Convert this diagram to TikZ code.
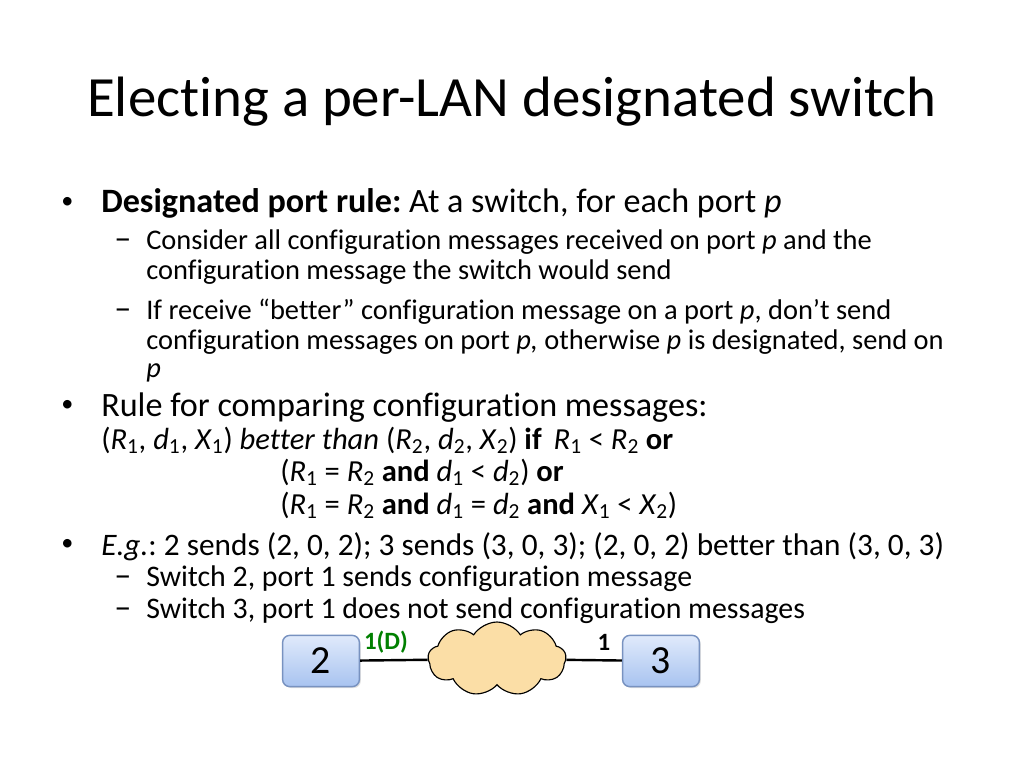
\documentclass[tikz,border=0pt]{standalone}
\usepackage{fontspec}
\setmainfont[Ligatures={NoCommon,NoRare,NoContextual}]{Carlito}
\usetikzlibrary{shapes.symbols,shadows}
\definecolor{boxtop}{RGB}{224,234,251}
\definecolor{boxbot}{RGB}{168,195,240}
\definecolor{boxedge}{RGB}{120,146,192}
\definecolor{lanfill}{RGB}{251,222,166}
\definecolor{portgreen}{RGB}{0,128,0}
\newcommand{\vsub}[2]{\textit{#1}\textsubscript{#2}}
\newcommand{\bul}{\raisebox{0.12em}{\fontsize{17}{17}\selectfont •}}
\frenchspacing
\tikzset{
    slidetitle/.style={anchor=base, inner sep=0pt, font=\fontsize{40}{46}\selectfont},
    lvlone/.style={anchor=base west, inner sep=0pt, font=\fontsize{24}{28}\selectfont},
    lvlonesmall/.style={anchor=base west, inner sep=0pt, font=\fontsize{22}{26}\selectfont},
    lvltwo/.style={anchor=base west, inner sep=0pt, font=\fontsize{20}{24}\selectfont},
    lvltwowide/.style={anchor=base west, inner sep=0pt, font=\fontsize{21}{24}\selectfont},
    rulerow/.style={anchor=base west, inner sep=0pt, font=\fontsize{21.5}{24}\selectfont},
    dashmark/.style={anchor=base west, inner sep=0pt, font=\fontsize{24}{28}\selectfont},
    switchbox/.style={draw=boxedge, line width=1pt, rounded corners=5pt,
        top color=boxtop, bottom color=boxbot,
        minimum width=54pt, minimum height=36pt, inner sep=0pt,
        font=\fontsize{28}{30}\selectfont,
        drop shadow={opacity=0.25, shadow xshift=1pt, shadow yshift=-1pt}},
    lancloud/.style={cloud, cloud puffs=9, cloud puff arc=115, cloud ignores aspect,
        draw=black, fill=lanfill, line width=0.8pt,
        minimum width=97pt, minimum height=52pt, inner sep=0pt},
    portlabel/.style={inner sep=0pt, font=\fontsize{17.5}{19}\selectfont\bfseries},
    link/.style={line width=1.7pt}
}
\begin{document}
\begin{tikzpicture}[x=0.703125pt,y=-0.703125pt]
    \useasboundingbox (0,0) rectangle (1024,768);
    % title
    \node[slidetitle] (title) at (512,117) {Electing a per-LAN designated switch};
    % designated port rule
    \node[lvlone] (b1) at (61,213) {\bul};
    \node[lvlone] (t1) at (101,213) {\textbf{Designated port rule:} At a switch, for each port \textit{p}};
    \node[dashmark] (d1) at (114,250) {–};
    \node[lvltwo] (t1a) at (146,250) {Consider all configuration messages received on port \textit{p} and the};
    \node[lvltwo] (t1b) at (146,280) {configuration message the switch would send};
    \node[dashmark] (d2) at (114,319) {–};
    \node[lvltwo] (t2a) at (146,319) {If receive “better” configuration message on a port \textit{p}, don’t send};
    \node[lvltwo] (t2b) at (146,349) {configuration messages on port \textit{p,} otherwise \textit{p} is designated, send on};
    \node[lvltwo] (t2c) at (146,377) {\textit{p}};
    % comparing rule
    \node[lvlone] (b2) at (61,416) {\bul};
    \node[lvlone] (t3) at (101,416) {Rule for comparing configuration messages:};
    \node[rulerow] (r1) at (101,449) {(\vsub{R}{1}, \vsub{d}{1}, \vsub{X}{1}) \textit{better than} (\vsub{R}{2}, \vsub{d}{2}, \vsub{X}{2}) \textbf{if}\, \vsub{R}{1} < \vsub{R}{2} \textbf{or}};
    \node[rulerow] (r2) at (280,481) {(\vsub{R}{1} = \vsub{R}{2} \textbf{and} \vsub{d}{1} < \vsub{d}{2}) \textbf{or}};
    \node[rulerow] (r3) at (280,514) {(\vsub{R}{1} = \vsub{R}{2} \textbf{and} \vsub{d}{1} = \vsub{d}{2} \textbf{and} \vsub{X}{1} < \vsub{X}{2})};
    % example
    \node[lvlone] (b3) at (61,555) {\bul};
    \node[lvlonesmall] (t4) at (101,555) {\textit{E.g.}: 2 sends (2, 0, 2); 3 sends (3, 0, 3); (2, 0, 2) better than (3, 0, 3)};
    \node[dashmark] (d3) at (114,586) {–};
    \node[lvltwowide] (t4a) at (146,586) {Switch 2, port 1 sends configuration message};
    \node[dashmark] (d4) at (114,618) {–};
    \node[lvltwowide] (t4b) at (146,618) {Switch 3, port 1 does not send configuration messages};
    % switches and LAN
    \node[switchbox] (sw2) at (321,661) {2};
    \node[switchbox] (sw3) at (661,661) {3};
    \node[lancloud] (lan) at (497,659) {};
    \draw[link] (sw2) -- (lan);
    \draw[link] (lan) -- (sw3);
    \node[portlabel, text=portgreen] (p2) at (386,642) {1(D)};
    \node[portlabel] (p3) at (604,642) {1};
\end{tikzpicture}
\end{document}
